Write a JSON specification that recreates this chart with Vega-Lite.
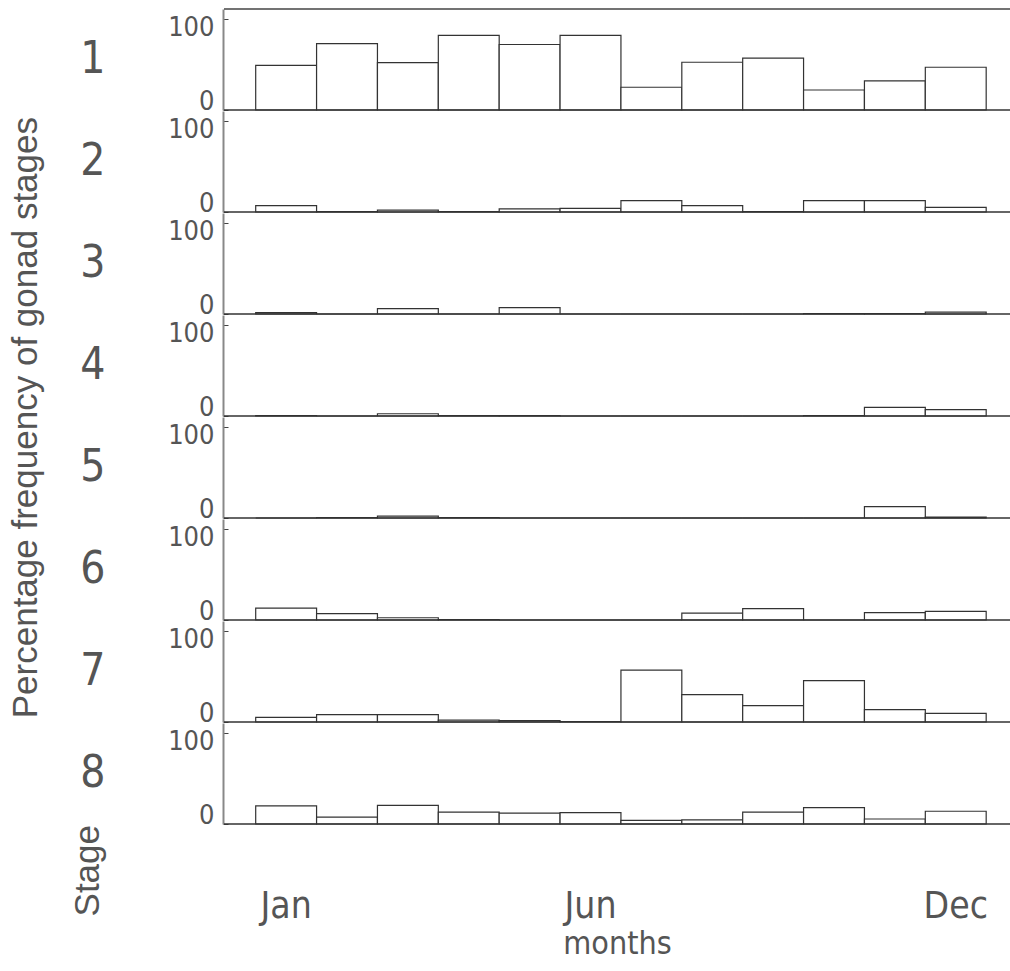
{
  "$schema": "https://vega.github.io/schema/vega-lite/v6.json",
  "background": "white",
  "padding": {"left": 8, "top": 8, "right": 2, "bottom": 8},
  "title": {"text": "Percentage frequency of gonad stages", "orient": "left", "anchor": "middle", "font": "Liberation Sans", "fontSize": 35, "fontWeight": "normal", "color": "#555", "offset": 27, "dx": 66},
  "data": {"values": [
    {"stage": 1, "month": "Jan", "pct": 49}, {"stage": 1, "month": "Feb", "pct": 73}, {"stage": 1, "month": "Mar", "pct": 52}, {"stage": 1, "month": "Apr", "pct": 82}, {"stage": 1, "month": "May", "pct": 72}, {"stage": 1, "month": "Jun", "pct": 82}, {"stage": 1, "month": "Jul", "pct": 25}, {"stage": 1, "month": "Aug", "pct": 52.5}, {"stage": 1, "month": "Sep", "pct": 57}, {"stage": 1, "month": "Oct", "pct": 22}, {"stage": 1, "month": "Nov", "pct": 32}, {"stage": 1, "month": "Dec", "pct": 47},
    {"stage": 2, "month": "Jan", "pct": 7}, {"stage": 2, "month": "Feb", "pct": 0.5}, {"stage": 2, "month": "Mar", "pct": 2}, {"stage": 2, "month": "Apr", "pct": 0.5}, {"stage": 2, "month": "May", "pct": 3.5}, {"stage": 2, "month": "Jun", "pct": 4}, {"stage": 2, "month": "Jul", "pct": 12.5}, {"stage": 2, "month": "Aug", "pct": 7}, {"stage": 2, "month": "Sep", "pct": 0.5}, {"stage": 2, "month": "Oct", "pct": 12.5}, {"stage": 2, "month": "Nov", "pct": 12.5}, {"stage": 2, "month": "Dec", "pct": 5},
    {"stage": 3, "month": "Jan", "pct": 1.5}, {"stage": 3, "month": "Feb", "pct": 0}, {"stage": 3, "month": "Mar", "pct": 6}, {"stage": 3, "month": "Apr", "pct": 0}, {"stage": 3, "month": "May", "pct": 7}, {"stage": 3, "month": "Jun", "pct": 0}, {"stage": 3, "month": "Jul", "pct": 0}, {"stage": 3, "month": "Aug", "pct": 0}, {"stage": 3, "month": "Sep", "pct": 0}, {"stage": 3, "month": "Oct", "pct": 0.5}, {"stage": 3, "month": "Nov", "pct": 0.5}, {"stage": 3, "month": "Dec", "pct": 2},
    {"stage": 4, "month": "Jan", "pct": 0.5}, {"stage": 4, "month": "Feb", "pct": 0}, {"stage": 4, "month": "Mar", "pct": 2.5}, {"stage": 4, "month": "Apr", "pct": 0.5}, {"stage": 4, "month": "May", "pct": 0.5}, {"stage": 4, "month": "Jun", "pct": 0}, {"stage": 4, "month": "Jul", "pct": 0}, {"stage": 4, "month": "Aug", "pct": 0}, {"stage": 4, "month": "Sep", "pct": 0}, {"stage": 4, "month": "Oct", "pct": 0.5}, {"stage": 4, "month": "Nov", "pct": 9.5}, {"stage": 4, "month": "Dec", "pct": 7},
    {"stage": 5, "month": "Jan", "pct": 0}, {"stage": 5, "month": "Feb", "pct": 0.5}, {"stage": 5, "month": "Mar", "pct": 2}, {"stage": 5, "month": "Apr", "pct": 0.5}, {"stage": 5, "month": "May", "pct": 0}, {"stage": 5, "month": "Jun", "pct": 0}, {"stage": 5, "month": "Jul", "pct": 0}, {"stage": 5, "month": "Aug", "pct": 0}, {"stage": 5, "month": "Sep", "pct": 0}, {"stage": 5, "month": "Oct", "pct": 0}, {"stage": 5, "month": "Nov", "pct": 12.5}, {"stage": 5, "month": "Dec", "pct": 1},
    {"stage": 6, "month": "Jan", "pct": 13}, {"stage": 6, "month": "Feb", "pct": 7}, {"stage": 6, "month": "Mar", "pct": 2.5}, {"stage": 6, "month": "Apr", "pct": 0.5}, {"stage": 6, "month": "May", "pct": 0}, {"stage": 6, "month": "Jun", "pct": 0}, {"stage": 6, "month": "Jul", "pct": 0}, {"stage": 6, "month": "Aug", "pct": 7.5}, {"stage": 6, "month": "Sep", "pct": 12.5}, {"stage": 6, "month": "Oct", "pct": 0}, {"stage": 6, "month": "Nov", "pct": 8}, {"stage": 6, "month": "Dec", "pct": 9.5},
    {"stage": 7, "month": "Jan", "pct": 5}, {"stage": 7, "month": "Feb", "pct": 8}, {"stage": 7, "month": "Mar", "pct": 8}, {"stage": 7, "month": "Apr", "pct": 2}, {"stage": 7, "month": "May", "pct": 1.5}, {"stage": 7, "month": "Jun", "pct": 0.5}, {"stage": 7, "month": "Jul", "pct": 57}, {"stage": 7, "month": "Aug", "pct": 30}, {"stage": 7, "month": "Sep", "pct": 18}, {"stage": 7, "month": "Oct", "pct": 45.5}, {"stage": 7, "month": "Nov", "pct": 13.5}, {"stage": 7, "month": "Dec", "pct": 9.5},
    {"stage": 8, "month": "Jan", "pct": 20}, {"stage": 8, "month": "Feb", "pct": 7.5}, {"stage": 8, "month": "Mar", "pct": 20.5}, {"stage": 8, "month": "Apr", "pct": 13}, {"stage": 8, "month": "May", "pct": 12}, {"stage": 8, "month": "Jun", "pct": 12.5}, {"stage": 8, "month": "Jul", "pct": 4}, {"stage": 8, "month": "Aug", "pct": 4.5}, {"stage": 8, "month": "Sep", "pct": 13}, {"stage": 8, "month": "Oct", "pct": 18}, {"stage": 8, "month": "Nov", "pct": 5.5}, {"stage": 8, "month": "Dec", "pct": 14}
  ]},
  "facet": {"row": {"field": "stage", "type": "ordinal", "title": "Stage", "header": {
    "labelAngle": 0, "labelOrient": "left", "labelAlign": "right", "labelBaseline": "middle",
    "labelFont": "DejaVu Sans Condensed, Liberation Sans", "labelFontSize": 44, "labelColor": "#555", "labelPadding": 37,
    "titleOrient": "left", "titleAnchor": "start", "titleAlign": "right", "titleAngle": -90,
    "titleFont": "Liberation Sans", "titleFontSize": 35, "titleFontWeight": "normal", "titleColor": "#555", "titlePadding": -71
  }}},
  "spacing": 0,
  "spec": {
    "width": 786,
    "height": 101,
    "layer": [
      {
        "mark": {"type": "bar", "fill": "white", "stroke": "#333", "strokeWidth": 1.2},
        "encoding": {
          "x": {"field": "month", "type": "ordinal", "sort": ["Jan","Feb","Mar","Apr","May","Jun","Jul","Aug","Sep","Oct","Nov","Dec"],
            "scale": {"paddingInner": 0, "paddingOuter": 0.456, "align": 0.571},
            "axis": {"values": ["Jan","Jun","Dec"], "ticks": false, "domain": false, "labelAngle": 0, "labelPadding": 63,
              "labelFont": "DejaVu Sans Condensed, Liberation Sans", "labelFontSize": 37, "labelColor": "#555",
              "title": "months", "titleFont": "DejaVu Sans Condensed, Liberation Sans", "titleFontSize": 32, "titleFontWeight": "normal", "titleColor": "#555", "titlePadding": 4}},
          "y": {"field": "pct", "type": "quantitative", "scale": {"domain": [0, 111], "nice": false},
            "axis": {"values": [0, 100], "title": null, "grid": false, "domainColor": "#888", "domainWidth": 2,
              "tickSize": -5, "tickColor": "#444", "labelPadding": 14,
              "labelFont": "DejaVu Sans Condensed, Liberation Sans", "labelFontSize": 27, "labelColor": "#555",
              "labelBaseline": "alphabetic",
              "labelOffset": {"condition": {"test": "datum.value === 100", "value": 16}, "value": -1}}}
        }
      },
      {
        "transform": [{"filter": "datum.month === 'Jan'"}],
        "mark": {"type": "rule", "color": "#333", "strokeWidth": 1.5},
        "encoding": {"y": {"datum": 0}}
      },
      {
        "transform": [{"filter": "datum.month === 'Jan' && datum.stage === 1"}],
        "mark": {"type": "rule", "color": "#444", "strokeWidth": 1.5},
        "encoding": {"y": {"datum": 111}}
      }
    ]
  },
  "config": {"view": {"stroke": null}}
}
